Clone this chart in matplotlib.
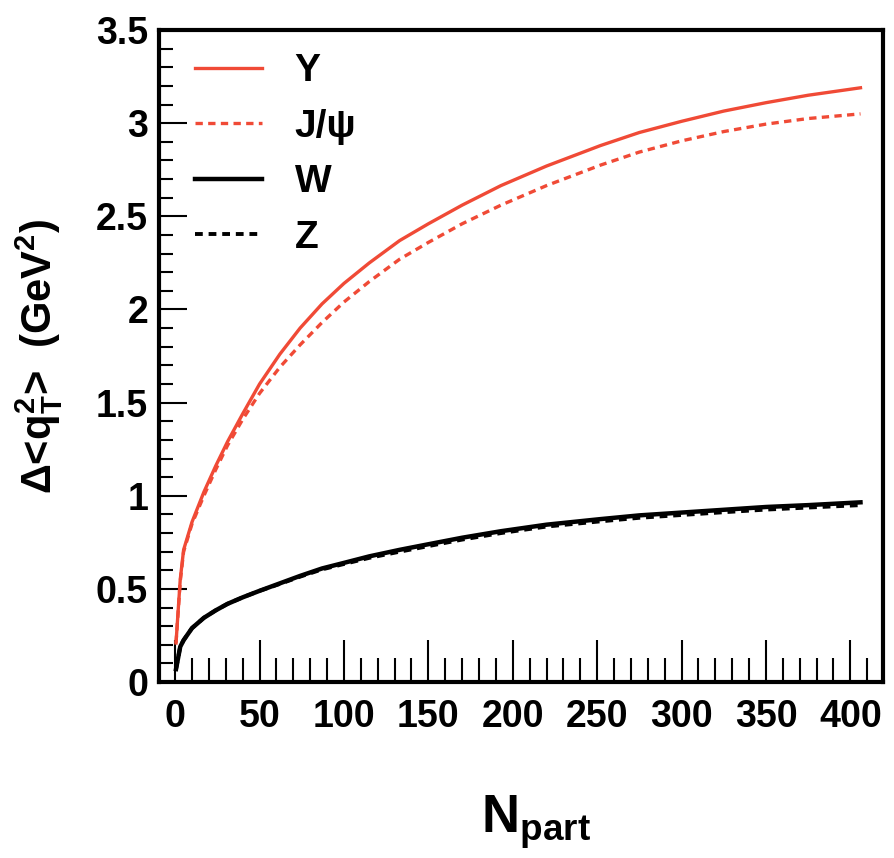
import matplotlib
matplotlib.use("Agg")
import matplotlib.pyplot as plt
from matplotlib.ticker import MultipleLocator

plt.rcParams['font.family'] = ['Liberation Sans', 'DejaVu Sans']
plt.rcParams['mathtext.fontset'] = 'custom'
plt.rcParams['mathtext.rm'] = 'Liberation Sans:bold'
plt.rcParams['mathtext.bf'] = 'Liberation Sans:bold'
plt.rcParams['mathtext.it'] = 'Liberation Sans:bold'

# values
npart = [0.5, 3, 5, 10, 17, 24, 31, 40, 50, 62, 74, 87, 100, 115, 133, 150,
         170, 193, 220, 252, 275, 300, 325, 350, 375, 406]
upsilon = [0.21, 0.55, 0.71, 0.86, 1.02, 1.16, 1.29, 1.44, 1.60, 1.76, 1.90, 2.03,
           2.14, 2.25, 2.37, 2.46, 2.56, 2.665, 2.77, 2.88, 2.95, 3.01, 3.065, 3.11,
           3.15, 3.19]
jpsi = [0.21, 0.54, 0.70, 0.85, 1.00, 1.14, 1.27, 1.41, 1.55, 1.69, 1.81, 1.93,
        2.04, 2.15, 2.27, 2.36, 2.46, 2.56, 2.665, 2.775, 2.845, 2.905, 2.955, 2.995,
        3.025, 3.05]
w_boson = [0.07, 0.19, 0.225, 0.29, 0.345, 0.385, 0.42, 0.455, 0.49, 0.53, 0.57, 0.61,
           0.64, 0.675, 0.71, 0.74, 0.775, 0.81, 0.845, 0.875, 0.895, 0.91, 0.925,
           0.94, 0.95, 0.965]
z_boson = [0.07, 0.19, 0.225, 0.29, 0.345, 0.385, 0.42, 0.455, 0.49, 0.527, 0.566, 0.605,
           0.634, 0.667, 0.70, 0.73, 0.765, 0.80, 0.835, 0.863, 0.882, 0.897, 0.912,
           0.926, 0.937, 0.95]

red = '#f04a36'

fig = plt.figure(figsize=(8.94, 8.58), dpi=100)
ax = fig.add_axes([0.178, 0.205, 0.81, 0.76])

ax.plot(npart, upsilon, color=red, lw=2.4, label='Υ')
ax.plot(npart, jpsi, color=red, lw=2.4, ls=(0, (2.2, 1.6)), label='J/ψ')
ax.plot(npart, w_boson, color='black', lw=3.2, label='W')
ax.plot(npart, z_boson, color='black', lw=2.8, ls=(0, (2.0, 1.5)), label='Z')

ax.set_xlim(-9.5, 419.5)
ax.set_ylim(0, 3.5)
ax.xaxis.set_major_locator(MultipleLocator(50))
ax.xaxis.set_minor_locator(MultipleLocator(10))
ax.yaxis.set_major_locator(MultipleLocator(0.5))
ax.yaxis.set_minor_locator(MultipleLocator(0.1))
ax.tick_params(which='both', direction='in', top=False, right=False, width=1.5)
ax.tick_params(axis='x', which='major', length=30, pad=12)
ax.tick_params(axis='x', which='minor', length=17)
ax.tick_params(axis='y', which='major', length=20, pad=8)
ax.tick_params(axis='y', which='minor', length=10)
for s in ax.spines.values():
    s.set_linewidth(3)

ax.set_yticks([0, 0.5, 1, 1.5, 2, 2.5, 3, 3.5])
ax.set_yticklabels(['0', '0.5', '1', '1.5', '2', '2.5', '3', '3.5'])
for lab in ax.get_xticklabels() + ax.get_yticklabels():
    lab.set_fontsize(27)
    lab.set_fontweight('bold')

ax.set_ylabel(r'$\Delta$<q$_{\mathbf{T}}^{\mathbf{2}}$>  (GeV$^{\mathbf{2}}$)',
              fontsize=30, fontweight='bold')
ax.yaxis.set_label_coords(-0.13, 0.5)
ax.set_xlabel(r'N$_{\mathbf{part}}$', fontsize=38, fontweight='bold')
ax.xaxis.set_label_coords(0.52, -0.17)

leg = ax.legend(loc='upper left', bbox_to_anchor=(0.018, 1.0), frameon=False,
                handlelength=1.7, handletextpad=0.85, labelspacing=0.5,
                borderaxespad=0.2, prop={'weight': 'bold', 'size': 28})

fig.savefig('out.png', dpi=100)
